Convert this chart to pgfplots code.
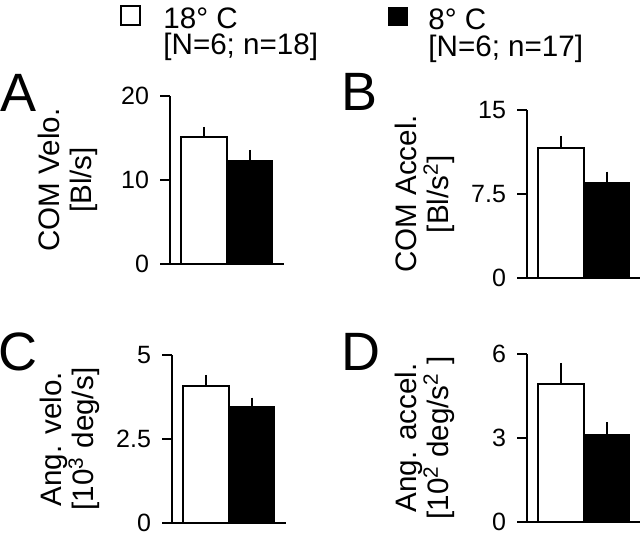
\documentclass[border=0pt]{standalone}
\usepackage{fontspec}
\setmainfont{Liberation Sans}
\usepackage{pgfplots}
\pgfplotsset{compat=1.18}
\pgfplotsset{
  panel/.style={
    scale only axis, width=56.875pt, height=84pt,
    xmin=-0.75, xmax=1.75, ymin=0,
    axis y line=left, axis x line=bottom,
    axis line style={-, line width=1pt},
    x axis line style={shorten <=-5pt},
    xtick=\empty,
    tick align=outside, major tick length=5pt,
    tick style={line width=1pt, black},
    /pgf/number format/assume math mode=true,
    yticklabel style={font=\fontsize{12.5}{14}\selectfont, xshift=-2pt},
    ylabel style={font=\fontsize{14.8}{16}\selectfont, align=center, at={(axis description cs:-0.575,0.5)}, anchor=south},
    clip=false,
  },
  wbar/.style={ybar, bar width=1, bar shift=0pt, draw=black, fill=white, line width=1pt,
    error bars/.cd, y dir=plus, y explicit, error bar style={line width=1pt, black},
    error mark options={line width=1pt, mark size=2.2pt, black}},
  bbar/.style={ybar, bar width=1, bar shift=0pt, draw=black, fill=black, line width=1pt,
    error bars/.cd, y dir=plus, y explicit, error bar style={line width=1pt, black},
    error mark options={line width=1pt, mark size=2.2pt, black}},
}
\begin{document}
\begin{tikzpicture}
\useasboundingbox (0,0) rectangle (320pt,-266pt);
% legend
\draw[line width=1pt, fill=white] (60.5pt,-3pt) rectangle (70pt,-12.5pt);
\fill[black] (194pt,-3.5pt) rectangle (204pt,-13pt);
\node[anchor=base west, inner sep=0pt, align=left, font=\fontsize{14.8}{13}\selectfont] at (81.5pt,-27pt) {18° C\\{[N=6; n=18]}};
\node[anchor=base west, inner sep=0pt, align=left, font=\fontsize{14.8}{13.5}\selectfont] at (214pt,-28pt) {8° C\\{[N=6; n=17]}};
% panel letters
\node[anchor=base west, inner sep=0pt, font=\fontsize{27}{30}\selectfont] at (0pt,-55.5pt) {A};
\node[anchor=base west, inner sep=0pt, font=\fontsize{27}{30}\selectfont] at (170.5pt,-55pt) {B};
\node[anchor=base west, inner sep=0pt, font=\fontsize{27}{30}\selectfont] at (-1pt,-185pt) {C};
\node[anchor=base west, inner sep=0pt, font=\fontsize{27}{30}\selectfont] at (170.5pt,-185pt) {D};
% A
\begin{axis}[panel, at={(85pt,-132pt)}, anchor=south west, ymax=20, ytick={0,10,20},
  ylabel={COM Velo.\\{[Bl/s]}}]
\addplot[wbar] coordinates {(0,15.1) +- (0,0.7)};
\addplot[bbar] coordinates {(1,12.3) +- (0,0.75)};
\end{axis}
% B
\begin{axis}[panel, at={(263.5pt,-139pt)}, anchor=south west, ymax=15, ytick={0,7.5,15},
  ylabel={COM Accel.\\{[Bl/s\textsuperscript{2}]}}]
\addplot[wbar] coordinates {(0,11.6) +- (0,0.7)};
\addplot[bbar] coordinates {(1,8.5) +- (0,0.6)};
\end{axis}
% C
\begin{axis}[panel, at={(86pt,-261.5pt)}, anchor=south west, ymax=5, ytick={0,2.5,5},
  ylabel={Ang. velo.\\{[10\textsuperscript{3} deg/s]}}]
\addplot[wbar] coordinates {(0,4.08) +- (0,0.2)};
\addplot[bbar] coordinates {(1,3.45) +- (0,0.15)};
\end{axis}
% D
\begin{axis}[panel, at={(263.5pt,-261pt)}, anchor=south west, ymax=6, ytick={0,3,6},
  ylabel={Ang. accel.\\{[10\textsuperscript{2} deg/s\textsuperscript{2} ]}}]
\addplot[wbar] coordinates {(0,4.93) +- (0,0.6)};
\addplot[bbar] coordinates {(1,3.12) +- (0,0.29)};
\end{axis}
\end{tikzpicture}
\end{document}
